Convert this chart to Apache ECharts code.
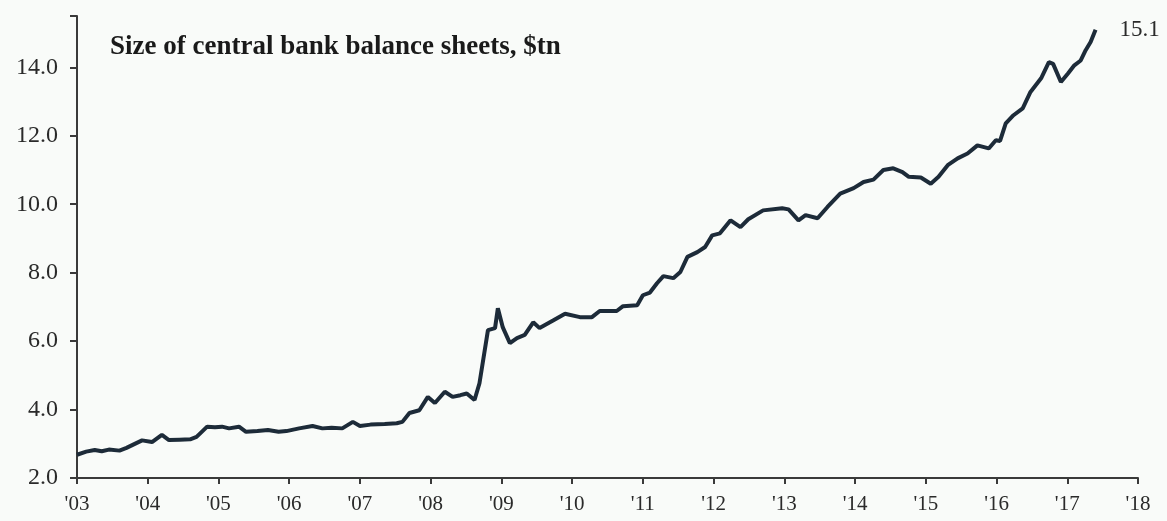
<!DOCTYPE html>
<html>
<head>
<meta charset="utf-8">
<script src="https://cdn.jsdelivr.net/npm/echarts@6/dist/echarts.min.js"></script>
<style>
html,body{margin:0;padding:0;background:#f9fbf9;}
#c{width:1167px;height:521px;}
</style>
</head>
<body>
<div id="c"></div>
<script>
const titleText = "Size of central bank balance sheets, $tn";
const xTicks = [2003,2004,2005,2006,2007,2008,2009,2010,2011,2012,2013,2014,2015,2016,2017,2018];
const yTicks = [2,4,6,8,10,12,14];
const dates = [2003.0,2003.13,2003.25,2003.35,2003.45,2003.6,2003.7,2003.78,2003.92,2004.06,2004.2,2004.3,2004.45,2004.6,2004.69,2004.84,2004.95,2005.05,2005.15,2005.29,2005.39,2005.55,2005.7,2005.85,2005.96,2006.14,2006.33,2006.47,2006.6,2006.75,2006.9,2007.0,2007.15,2007.35,2007.52,2007.6,2007.7,2007.84,2007.96,2008.06,2008.2,2008.31,2008.42,2008.51,2008.62,2008.69,2008.81,2008.91,2008.95,2009.02,2009.12,2009.22,2009.33,2009.45,2009.54,2009.73,2009.9,2010.11,2010.28,2010.39,2010.63,2010.72,2010.92,2011.0,2011.1,2011.2,2011.29,2011.43,2011.53,2011.63,2011.77,2011.88,2011.98,2012.09,2012.24,2012.38,2012.49,2012.7,2012.97,2013.06,2013.2,2013.3,2013.47,2013.61,2013.79,2013.98,2014.12,2014.26,2014.4,2014.54,2014.67,2014.76,2014.93,2015.07,2015.18,2015.31,2015.45,2015.59,2015.73,2015.89,2015.99,2016.05,2016.13,2016.24,2016.37,2016.48,2016.63,2016.74,2016.8,2016.91,2017.01,2017.1,2017.19,2017.26,2017.33,2017.4];
const values = [2.68,2.77,2.82,2.78,2.83,2.8,2.88,2.96,3.1,3.05,3.26,3.11,3.12,3.13,3.2,3.5,3.48,3.5,3.45,3.5,3.35,3.37,3.4,3.35,3.37,3.45,3.52,3.45,3.47,3.45,3.64,3.52,3.56,3.58,3.6,3.64,3.9,3.98,4.37,4.19,4.52,4.37,4.42,4.47,4.28,4.77,6.32,6.38,6.96,6.4,5.94,6.09,6.18,6.55,6.38,6.6,6.8,6.7,6.7,6.88,6.88,7.02,7.05,7.34,7.42,7.69,7.9,7.84,8.02,8.46,8.6,8.75,9.09,9.15,9.53,9.33,9.56,9.82,9.88,9.85,9.53,9.68,9.59,9.92,10.31,10.47,10.65,10.72,11.0,11.05,10.94,10.8,10.78,10.6,10.8,11.14,11.34,11.48,11.72,11.63,11.87,11.85,12.36,12.6,12.8,13.28,13.68,14.15,14.1,13.57,13.82,14.06,14.2,14.5,14.74,15.1];
const endLabelText = "15.1";

const chart = echarts.init(document.getElementById('c'), null, {renderer:'canvas'});
const serif = "'Liberation Serif', 'DejaVu Serif', serif";
chart.setOption({
  backgroundColor: '#f9fbf9',
  animation: false,
  grid: {left: 77, right: 29, top: 16, bottom: 43, containLabel: false},
  title: {
    text: titleText, left: 105, top: 29,
    textStyle: {fontFamily: serif, fontWeight: 'bold', fontSize: 27, color: '#1a1a1a'}
  },
  xAxis: {
    type: 'value', min: xTicks[0], max: xTicks[xTicks.length-1], interval: 1,
    axisLine: {show: true, lineStyle: {color: '#3a3a3a', width: 2}},
    axisTick: {show: true, length: 6, lineStyle: {color: '#3a3a3a', width: 2}},
    axisLabel: {
      fontFamily: serif, fontSize: 21, color: '#2a2a2a', margin: 16,
      formatter: v => "'" + String(v).slice(2)
    },
    splitLine: {show: false}
  },
  yAxis: {
    type: 'value', min: yTicks[0], max: 15.5, interval: 2,
    axisLine: {show: true, lineStyle: {color: '#3a3a3a', width: 2}},
    axisTick: {show: true, length: 7, lineStyle: {color: '#3a3a3a', width: 2}},
    axisLabel: {
      fontFamily: serif, fontSize: 24, color: '#2a2a2a', margin: 19,
      formatter: v => (yTicks.indexOf(v) >= 0 ? Number(v).toFixed(1) : '')
    },
    splitLine: {show: false}
  },
  series: [{
    type: 'line',
    data: dates.map((d, i) => [d, values[i]]),
    showSymbol: false,
    lineStyle: {color: '#1d2b39', width: 4},
    endLabel: {
      show: true, formatter: endLabelText, distance: 24,
      fontFamily: serif, fontSize: 23, color: '#2a2a2a'
    }
  }]
});
</script>
</body>
</html>
